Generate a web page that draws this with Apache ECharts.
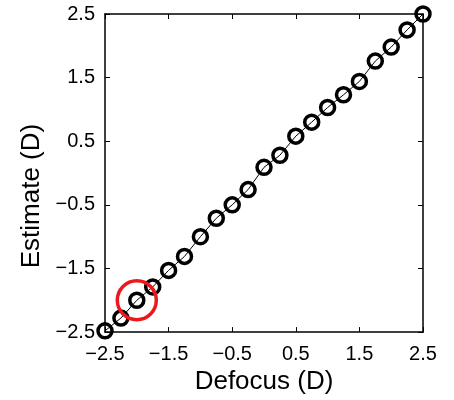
<!DOCTYPE html>
<html>
<head>
<meta charset="utf-8">
<script src="https://cdn.jsdelivr.net/npm/echarts@6/dist/echarts.min.js"></script>
<style>
html,body{margin:0;padding:0;background:#fff;}
#chart{width:454px;height:400px;}
</style>
</head>
<body>
<div id="chart"></div>
<script>
var defocus = [-2.5, -2.25, -2.0, -1.75, -1.5, -1.25, -1.0, -0.75, -0.5, -0.25, 0, 0.25, 0.5, 0.75, 1.0, 1.25, 1.5, 1.75, 2.0, 2.25, 2.5];
var estimate = [-2.48, -2.28, -2.0, -1.79, -1.53, -1.31, -1.0, -0.71, -0.5, -0.26, 0.09, 0.28, 0.58, 0.8, 1.03, 1.23, 1.44, 1.76, 1.98, 2.25, 2.5];
var highlight = [[-2.0, -2.0]];
var tickValues = [-2.5, -1.5, -0.5, 0.5, 1.5, 2.5];
var xName = 'Defocus (D)';
var yName = 'Estimate (D)';

var pts = defocus.map(function (d, i) { return [d, estimate[i]]; });
var font = 'Liberation Sans, Arial, Helvetica, sans-serif';
function fmt(v) { return String(v).replace('-', '\u2212'); }

function makeAxis(extra) {
  return Object.assign({
    type: 'value', min: tickValues[0], max: tickValues[tickValues.length - 1], interval: 1,
    splitLine: { show: false },
    axisLine: { show: true, onZero: false, lineStyle: { color: '#000', width: 1.5 } },
    axisTick: { show: true, inside: true, length: 5, lineStyle: { color: '#000', width: 1 } }
  }, extra);
}

var chart = echarts.init(document.getElementById('chart'));
chart.setOption({
  animation: false,
  backgroundColor: '#fff',
  grid: { left: 105, right: 31, top: 14, bottom: 67 },
  xAxis: [
    makeAxis({
      position: 'bottom',
      name: xName, nameLocation: 'middle', nameGap: 33,
      nameTextStyle: { fontSize: 26, color: '#000', fontFamily: font },
      axisLabel: { fontSize: 20, color: '#000', fontFamily: font, margin: 12, formatter: fmt }
    }),
    makeAxis({ position: 'top', axisLabel: { show: false } })
  ],
  yAxis: [
    makeAxis({
      position: 'left',
      name: yName, nameLocation: 'middle', nameGap: 60,
      nameTextStyle: { fontSize: 26, color: '#000', fontFamily: font, padding: [0, 46, 0, 0] },
      axisLabel: { fontSize: 20, color: '#000', fontFamily: font, margin: 10, formatter: fmt }
    }),
    makeAxis({ position: 'right', axisLabel: { show: false } })
  ],
  series: [
    {
      type: 'line', data: pts, showSymbol: false, silent: true,
      lineStyle: { color: '#000', width: 1 }, z: 2
    },
    {
      type: 'scatter', data: pts, symbol: 'circle', symbolSize: 14,
      itemStyle: { color: 'rgba(0,0,0,0)', borderColor: '#000', borderWidth: 3.5, opacity: 1 }, z: 3
    },
    {
      type: 'scatter', data: highlight, symbol: 'circle', symbolSize: 39,
      itemStyle: { color: 'rgba(0,0,0,0)', borderColor: 'rgb(235,25,30)', borderWidth: 3.5, opacity: 1 }, z: 4
    }
  ]
});
</script>
</body>
</html>
